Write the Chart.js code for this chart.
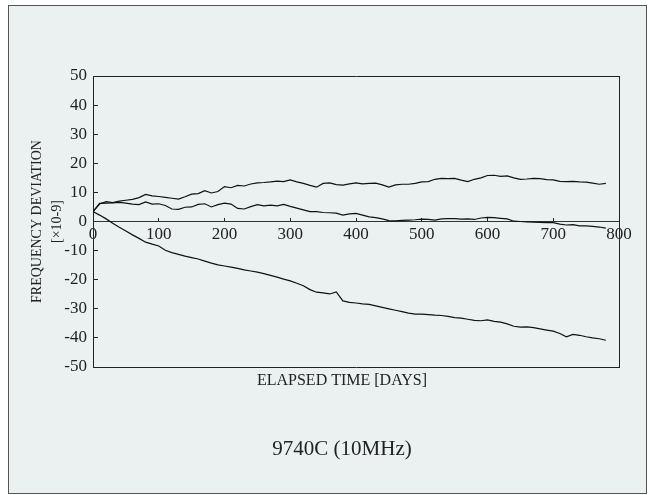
<!DOCTYPE html>
<html>
<head>
<meta charset="utf-8">
<title>9740C (10MHz)</title>
<script src="https://cdn.jsdelivr.net/npm/chart.js@4/dist/chart.umd.min.js"></script>
<style>
    html, body { margin: 0; padding: 0; background: #fff; }
    #frame {
        position: absolute; left: 8px; top: 5px;
        width: 639px; height: 489px; box-sizing: border-box;
        border: 1px solid #555; background: #ebf0f1;
    }
    #chart { position: absolute; left: 0; top: 0; }
</style>
</head>
<body>
<div id="frame"></div>
<canvas id="chart" width="651" height="495"></canvas>
<script>
// elapsed days, one reading every 10 days
const days = [
    0, 10, 20, 30, 40, 50, 60, 70, 80, 90,
    100, 110, 120, 130, 140, 150, 160, 170, 180, 190,
    200, 210, 220, 230, 240, 250, 260, 270, 280, 290,
    300, 310, 320, 330, 340, 350, 360, 370, 380, 390,
    400, 410, 420, 430, 440, 450, 460, 470, 480, 490,
    500, 510, 520, 530, 540, 550, 560, 570, 580, 590,
    600, 610, 620, 630, 640, 650, 660, 670, 680, 690,
    700, 710, 720, 730, 740, 750, 760, 770, 780
];

// frequency deviation [x10-9] of the three units
const unitUpper = [
    3.4, 6.0, 6.8, 6.5, 7.0, 7.3, 7.6, 8.2, 9.3, 8.8,
    8.6, 8.3, 8.0, 7.7, 8.5, 9.4, 9.6, 10.6, 9.8, 10.3,
    12.0, 11.6, 12.4, 12.2, 12.9, 13.3, 13.4, 13.6, 13.9, 13.7,
    14.3, 13.6, 13.1, 12.4, 11.8, 13.1, 13.3, 12.7, 12.5, 12.9,
    13.3, 12.9, 13.1, 13.2, 12.6, 11.8, 12.6, 12.8, 12.8, 13.1,
    13.6, 13.7, 14.5, 14.8, 14.7, 14.8, 14.2, 13.7, 14.5, 15.0,
    15.8, 15.9, 15.5, 15.7, 15.0, 14.5, 14.6, 14.8, 14.7, 14.4,
    14.3, 13.8, 13.7, 13.8, 13.6, 13.5, 13.2, 12.8, 13.1
];
const unitMiddle = [
    3.4, 6.2, 6.3, 6.4, 6.6, 6.3, 6.0, 5.8, 6.7, 6.0,
    6.1, 5.5, 4.3, 4.2, 4.9, 5.0, 5.9, 6.1, 5.0, 5.8,
    6.3, 6.0, 4.5, 4.3, 5.1, 5.8, 5.4, 5.6, 5.4, 5.9,
    5.2, 4.6, 4.0, 3.4, 3.4, 3.1, 3.0, 2.9, 2.2, 2.6,
    2.8, 2.2, 1.6, 1.3, 0.9, 0.3, 0.2, 0.4, 0.5, 0.6,
    0.8, 0.7, 0.5, 0.9, 1.0, 1.0, 0.8, 0.9, 0.7, 1.2,
    1.4, 1.3, 1.1, 0.9, 0.1, 0.0, -0.1, -0.2, -0.3, -0.4,
    -0.4, -0.9, -1.2, -1.1, -1.5, -1.5, -1.7, -1.9, -2.3
];
const unitLower = [
    3.4, 2.2, 0.9, -0.6, -2.0, -3.3, -4.6, -5.8, -7.1, -7.8,
    -8.4, -9.9, -10.7, -11.3, -11.9, -12.4, -12.9, -13.6, -14.3, -14.9,
    -15.3, -15.7, -16.1, -16.6, -17.0, -17.4, -17.9, -18.5, -19.1, -19.8,
    -20.4, -21.2, -22.1, -23.4, -24.3, -24.5, -24.9, -24.2, -27.3, -27.8,
    -28.0, -28.3, -28.5, -29.0, -29.5, -30.0, -30.5, -31.0, -31.5, -31.8,
    -31.8, -32.0, -32.2, -32.3, -32.6, -33.0, -33.2, -33.6, -34.0, -34.1,
    -33.8, -34.3, -34.6, -35.2, -36.0, -36.3, -36.2, -36.5, -36.9, -37.3,
    -37.7, -38.5, -39.6, -38.8, -39.1, -39.6, -40.0, -40.3, -40.8
];

const xRange = [0, 800];
const yRange = [-50, 50];
const xStep = 100;
const yStep = 10;

const serif = "'Liberation Serif', 'Times New Roman', serif";
const ink = '#222';

const toPoints = values => days.map((d, i) => ({ x: d, y: values[i] }));

const lineSet = values => ({
    data: toPoints(values),
    borderColor: '#111',
    borderWidth: 1.2,
    pointRadius: 0,
    tension: 0,
    xAxisID: 'x',
    yAxisID: 'y'
});

// frame-only axes: just a border, no ticks
const edgeAxis = (position, size) => ({
    type: 'linear',
    position: position,
    min: position === 'top' ? xRange[0] : yRange[0],
    max: position === 'top' ? xRange[1] : yRange[1],
    ticks: { display: false },
    grid: { display: false },
    border: { color: ink, width: 1 },
    afterFit: scale => {
        if (position === 'top') scale.height = size;
        else scale.width = size;
    }
});

new Chart(document.getElementById('chart').getContext('2d'), {
    type: 'line',
    data: {
        datasets: [lineSet(unitUpper), lineSet(unitMiddle), lineSet(unitLower)]
    },
    options: {
        responsive: false,
        animation: false,
        layout: { padding: { left: 33, right: 0, top: 0, bottom: 0 } },
        plugins: {
            legend: { display: false },
            tooltip: { enabled: false },
            subtitle: {
                display: true,
                position: 'bottom',
                text: 'ELAPSED TIME [DAYS]',
                color: ink,
                font: { family: serif, size: 16, weight: 'normal' },
                padding: { top: 4.4, bottom: 45.8 }
            },
            title: {
                display: true,
                position: 'bottom',
                text: '9740C (10MHz)',
                color: ink,
                font: { family: serif, size: 21, weight: 'normal' },
                padding: { top: 0, bottom: 33.4 }
            }
        },
        scales: {
            x: {
                type: 'linear',
                position: 'bottom',
                min: xRange[0],
                max: xRange[1],
                ticks: { display: false },
                grid: { display: false },
                border: { color: ink, width: 1 },
                afterFit: scale => { scale.height = 0; }
            },
            // day labels sit on the zero line
            xz: {
                type: 'linear',
                position: { y: 0 },
                min: xRange[0],
                max: xRange[1],
                ticks: {
                    stepSize: xStep,
                    color: ink,
                    padding: 7.3,
                    maxRotation: 0,
                    autoSkip: false,
                    font: { family: serif, size: 17 }
                },
                grid: { drawOnChartArea: false, tickLength: -4, color: ink },
                border: { color: '#333', width: 1 }
            },
            xt: edgeAxis('top', 76),
            y: {
                type: 'linear',
                position: 'left',
                min: yRange[0],
                max: yRange[1],
                ticks: {
                    stepSize: yStep,
                    color: ink,
                    padding: 11,
                    font: { family: serif, size: 17 }
                },
                grid: { drawOnChartArea: false, tickLength: -5, color: ink },
                border: { color: ink, width: 1 },
                title: {
                    display: true,
                    text: ['FREQUENCY DEVIATION', '[\u00d710-9]'],
                    color: ink,
                    font: { family: serif, size: 14, lineHeight: '20px' },
                    padding: { top: -6, bottom: 0 }
                },
                afterFit: scale => { scale.width = 60; }
            },
            yr: edgeAxis('right', 32)
        }
    }
});
</script>
</body>
</html>
